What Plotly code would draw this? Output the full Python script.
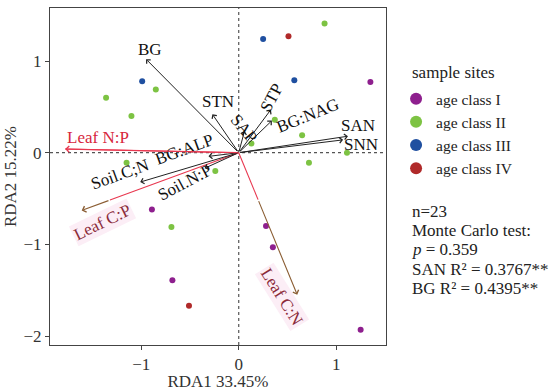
import plotly.graph_objects as go

# ---------------- data ----------------
class_names = ["age class I", "age class II", "age class III", "age class IV"]
class_colors = ["#8E1F8E", "#7DC343", "#1F4FA0", "#B02A2A"]

c1_x = [1.35, -0.89, -0.68, 0.28, 0.35, 1.25]
c1_y = [0.77, -0.62, -1.39, -0.80, -1.03, -1.93]
c2_x = [-0.85, -1.36, -1.10, -1.15, 0.88, 0.37, 0.65, 0.13, 1.11, 0.72, -0.24, -0.69]
c2_y = [0.69, 0.60, 0.40, -0.11, 1.41, 0.36, 0.19, 0.10, 0.00, -0.11, -0.20, -0.81]
c3_x = [-0.99, 0.25, 0.57]
c3_y = [0.78, 1.24, 0.79]
c4_x = [0.51, -0.51]
c4_y = [1.27, -1.67]

soil_names = ["BG", "STN", "SAP", "STP", "BG:NAG", "SAN", "SNN", "BG:ALP", "Soil.C;N", "Soil.N:P"]
soil_x = [-0.95, -0.27, 0.06, 0.33, 0.34, 1.12, 1.07, -0.31, -1.01, -0.35]
soil_y = [1.02, 0.42, 0.24, 0.47, 0.35, 0.18, 0.14, -0.04, -0.32, -0.17]

leaf_names = ["Leaf N:P", "Leaf C:P", "Leaf C:N"]
leaf_x = [-1.78, -1.61, 0.60]
leaf_y = [0.04, -0.63, -1.55]

x_ticks = [-1, 0, 1]
y_ticks = [-2, -1, 0, 1]

legend_title = "sample sites"
info_lines = ["n=23", "Monte Carlo test:", "<i>p</i> = 0.359",
              "SAN R² = 0.3767**", "BG R² = 0.4395**"]

# ---------------- styles / label placement ----------------
FONT = "Liberation Serif"
FS = 17
LFS = 17
soil_label_pos = {
    "BG": (-0.91, 1.13, 0), "STN": (-0.21, 0.56, 0), "SAP": (0.05, 0.26, 50),
    "STP": (0.34, 0.60, -62), "BG:NAG": (0.71, 0.41, -22), "SAN": (1.22, 0.30, 0),
    "SNN": (1.25, 0.09, 0), "BG:ALP": (-0.56, 0.04, -20), "Soil.C;N": (-1.22, -0.24, -20),
    "Soil.N:P": (-0.55, -0.33, -28),
}
leaf_label_pos = {
    "Leaf N:P": (-1.44, 0.17, 0, "#D7263D", "rgba(0,0,0,0)"),
    "Leaf C:P": (-1.40, -0.76, -26, "#8B2B3A", "#FCEEF6"),
    "Leaf C:N": (0.44, -1.57, 58, "#8B2B3A", "#FCEEF6"),
}
leaf_split = {"Leaf N:P": 1.0, "Leaf C:P": 0.82, "Leaf C:N": 0.33}

fig = go.Figure()

groups = [(c1_x, c1_y), (c2_x, c2_y), (c3_x, c3_y), (c4_x, c4_y)]
for name, col, (gx, gy) in zip(class_names, class_colors, groups):
    fig.add_trace(go.Scatter(x=gx, y=gy, mode="markers", name=name,
                             marker=dict(color=col, size=6)))

annotations = []
for n, vx, vy in zip(soil_names, soil_x, soil_y):
    annotations.append(dict(x=vx, y=vy, ax=0, ay=0, xref="x", yref="y", axref="x", ayref="y",
                            text="", showarrow=True, arrowhead=4, arrowsize=1.1,
                            arrowwidth=1, arrowcolor="#222222"))
    lx, ly, ang = soil_label_pos[n]
    annotations.append(dict(x=lx, y=ly, xref="x", yref="y", text=n, showarrow=False,
                            textangle=ang, font=dict(family=FONT, size=LFS, color="#111111")))

for n, vx, vy in zip(leaf_names, leaf_x, leaf_y):
    f = leaf_split[n]
    fig.add_trace(go.Scatter(x=[0, vx * f], y=[0, vy * f], mode="lines", showlegend=False,
                             line=dict(color="#E8374F", width=1.1), hoverinfo="skip"))
    head_col = "#E8374F" if f >= 1 else "#8B5E34"
    annotations.append(dict(x=vx, y=vy, ax=vx * f if f < 1 else 0, ay=vy * f if f < 1 else 0,
                            xref="x", yref="y", axref="x", ayref="y",
                            text="", showarrow=True, arrowhead=4, arrowsize=1.1,
                            arrowwidth=1.1, arrowcolor=head_col))
    lx, ly, ang, tc, bg = leaf_label_pos[n]
    annotations.append(dict(x=lx, y=ly, xref="x", yref="y", text=n, showarrow=False,
                            textangle=ang, bgcolor=bg,
                            font=dict(family=FONT, size=LFS, color=tc)))

annotations.append(dict(x=1.07, y=0.81, xref="paper", yref="paper", xanchor="left",
                        yanchor="middle", text=legend_title, showarrow=False,
                        font=dict(family=FONT, size=FS, color="#222222")))

info_y0 = 0.395
for i, t in enumerate(info_lines):
    annotations.append(dict(x=1.072, y=info_y0 - i * 0.0565, xref="paper", yref="paper",
                            xanchor="left", yanchor="middle", text=t, showarrow=False,
                            font=dict(family=FONT, size=FS, color="#222222")))

shapes = [
    dict(type="line", x0=0, x1=0, y0=0, y1=1, xref="x", yref="paper",
         line=dict(color="#555555", width=1.2, dash="dot"), layer="below"),
    dict(type="line", x0=0, x1=1, y0=0, y1=0, xref="paper", yref="y",
         line=dict(color="#555555", width=1.2, dash="dot"), layer="below"),
]

axis_common = dict(showgrid=False, zeroline=False, showline=True, mirror=True,
                   linecolor="#444444", linewidth=1, ticks="outside", ticklen=4,
                   tickcolor="#444444", automargin=False,
                   tickfont=dict(family=FONT, size=FS, color="#333333"),
                   title_font=dict(family=FONT, size=FS, color="#333333"))

fig.update_layout(
    width=550, height=391,
    margin=dict(l=50, r=164, t=8, b=46),
    plot_bgcolor="white", paper_bgcolor="white",
    xaxis=dict(range=[-1.935, 1.51], tickvals=x_ticks, ticktext=["\u22121", "0", "1"],
               title=dict(text="RDA1 33.45%", standoff=7), **axis_common),
    yaxis=dict(range=[-2.097, 1.578], tickvals=y_ticks,
               ticktext=["\u22122", "\u22121", "0", "1"],
               title=dict(text="RDA2 15.22%", standoff=2), **axis_common),
    legend=dict(x=1.03, y=0.78, xanchor="left", yanchor="top",
                font=dict(family=FONT, size=15.5, color="#222222"),
                itemwidth=30, itemsizing="constant", tracegroupgap=0,
                bgcolor="rgba(0,0,0,0)"),
    annotations=annotations,
    shapes=shapes,
    showlegend=True,
)

fig.write_html("out.html", config={"displayModeBar": False},
               post_script="document.body.style.margin='0px';document.body.style.padding='0px';")
